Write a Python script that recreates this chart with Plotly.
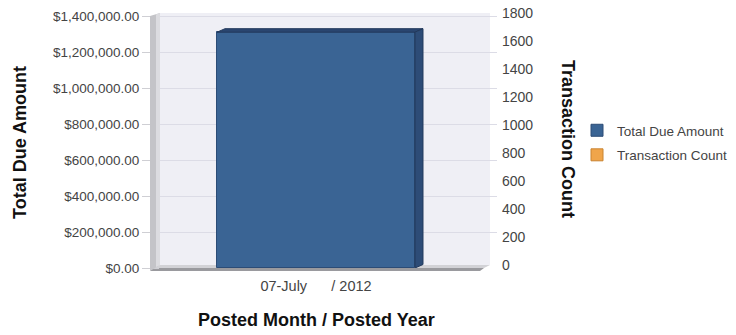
import plotly.graph_objects as go

# ---- data ----
periods = ["07-July\u00a0\u00a0\u00a0\u00a0\u00a0\u00a0/ 2012"]
total_due_amount = [1310000]
transaction_count = [1600]

amount_ticks = [0, 200000, 400000, 600000, 800000, 1000000, 1200000, 1400000]
amount_tick_text = ["$0.00", "$200,000.00", "$400,000.00", "$600,000.00",
                    "$800,000.00", "$1,000,000.00", "$1,200,000.00", "$1,400,000.00"]
count_ticks = [0, 200, 400, 600, 800, 1000, 1200, 1400, 1600, 1800]

W, H = 736, 335
L, R, T, B = 160, 497, 13, 268          # plot area in pixels
PW, PH = R - L, B - T


def px(xp):
    return (xp - L) / PW


def py(yp):
    return (B - yp) / PH


BAR_W = 0.6
X_RANGE = [-0.4727, -0.4727 + PW / 330.0]
AMT_MAX = 1400000 * PH / 252.0          # 1.4M sits 3px below the top edge
CNT_MIN = -1800 * 3 / 252.0             # count axis sits 3px higher (depth)

fig = go.Figure()

# transaction count (behind the amount bar, on the right-hand axis)
fig.add_trace(go.Bar(
    x=periods, y=transaction_count, name="Transaction Count",
    marker=dict(color="#f0a54a", line=dict(color="#c98430", width=1)),
    width=BAR_W, yaxis="y", legendrank=2, legendgroup="cnt",
))
# total due amount (front bar, left-hand axis)
fig.add_trace(go.Bar(
    x=periods, y=total_due_amount, name="Total Due Amount",
    marker=dict(color="#3a6494", line=dict(color="#2c4c76", width=1)),
    width=BAR_W, yaxis="y2", legendrank=1, legendgroup="amt",
))

shapes = []
# back wall
shapes.append(dict(type="rect", xref="paper", yref="paper", layer="below",
                   x0=px(160), x1=px(490), y0=py(265), y1=py(13),
                   fillcolor="#efeff5", line=dict(width=0)))
# floor
shapes.append(dict(type="path", xref="paper", yref="paper", layer="below",
                   path=f"M{px(160)},{py(265)} L{px(490)},{py(265)} L{px(484)},{py(268)} L{px(153)},{py(268)} Z",
                   fillcolor="#d2d2d6", line=dict(width=0)))
shapes.append(dict(type="path", xref="paper", yref="paper", layer="below",
                   path=f"M{px(153)},{py(268)} L{px(484)},{py(268)} L{px(480)},{py(271)} L{px(150)},{py(271)} Z",
                   fillcolor="#9a9a9e", line=dict(width=0)))
# left wall
shapes.append(dict(type="path", xref="paper", yref="paper", layer="above",
                   path=f"M{px(150)},{py(16)} L{px(160)},{py(13)} L{px(160)},{py(265)} L{px(150)},{py(271)} Z",
                   fillcolor="#c4c4c8", line=dict(width=0)))
shapes.append(dict(type="path", xref="paper", yref="paper", layer="above",
                   path=f"M{px(156)},{py(14.5)} L{px(160)},{py(13)} L{px(160)},{py(265)} L{px(156)},{py(267)} Z",
                   fillcolor="#dcdce0", line=dict(width=0)))

# 3D faces of the amount bar, derived from its value
dx = 8 / 330.0
dy = 3.5 * AMT_MAX / PH
for i, v in enumerate(total_due_amount):
    x0 = i - BAR_W / 2
    x1 = i + BAR_W / 2
    # top face
    shapes.append(dict(type="path", xref="x", yref="y2", layer="above",
                       path=f"M{x0},{v} L{x1},{v} L{x1 + dx},{v + dy} L{x0 + dx},{v + dy} Z",
                       fillcolor="#2a4670", line=dict(color="#22395c", width=1)))
    # right side face
    shapes.append(dict(type="path", xref="x", yref="y2", layer="above",
                       path=f"M{x1},{v} L{x1 + dx},{v + dy} L{x1 + dx},{dy} L{x1},{0} Z",
                       fillcolor="#2d4c77", line=dict(color="#22395c", width=1)))

annotations = [
    dict(text="<b>Total Due Amount</b>", xref="paper", yref="paper",
         x=px(20), y=py(143), textangle=-90, showarrow=False,
         font=dict(size=18, color="#111111"), xanchor="center", yanchor="middle"),
    dict(text="<b>Transaction Count</b>", xref="paper", yref="paper",
         x=px(568), y=py(139), textangle=90, showarrow=False,
         font=dict(size=18, color="#111111"), xanchor="center", yanchor="middle"),
    dict(text="<b>Posted Month / Posted Year</b>", xref="paper", yref="paper",
         x=px(316), y=py(320), showarrow=False,
         font=dict(size=18, color="#111111"), xanchor="center", yanchor="middle"),
]

fig.update_layout(
    width=W, height=H,
    margin=dict(l=L, r=W - R, t=T, b=H - B, pad=0, autoexpand=False),
    paper_bgcolor="white",
    plot_bgcolor="rgba(0,0,0,0)",
    font=dict(family="Liberation Sans, Arial, sans-serif", color="#444444"),
    barmode="overlay",
    bargap=0,
    showlegend=True,
    legend=dict(x=px(577), y=py(115), xanchor="left", yanchor="top",
                font=dict(size=13.5, color="#444444"), bgcolor="rgba(0,0,0,0)",
                tracegroupgap=4, traceorder="grouped"),
    xaxis=dict(range=X_RANGE, showgrid=False, zeroline=False, showline=False,
               ticks="", ticklabelstandoff=7,
               tickfont=dict(size=14.5, color="#444444"), fixedrange=True),
    yaxis=dict(range=[CNT_MIN, 1800], side="right", tickvals=count_ticks,
               showgrid=False, zeroline=False, showline=False, ticks="",
               ticklabelstandoff=4,
               tickfont=dict(size=14, color="#444444")),
    yaxis2=dict(range=[0, AMT_MAX], side="left", overlaying="y",
                tickvals=amount_ticks, ticktext=amount_tick_text,
                showgrid=True, gridcolor="#dcdce6", gridwidth=1,
                zeroline=False, showline=False,
                ticks="outside", ticklen=17, tickcolor="#cfcfd4",
                tickfont=dict(size=13.5, color="#444444")),
    shapes=shapes,
    annotations=annotations,
)

fig.write_html("out.html")
